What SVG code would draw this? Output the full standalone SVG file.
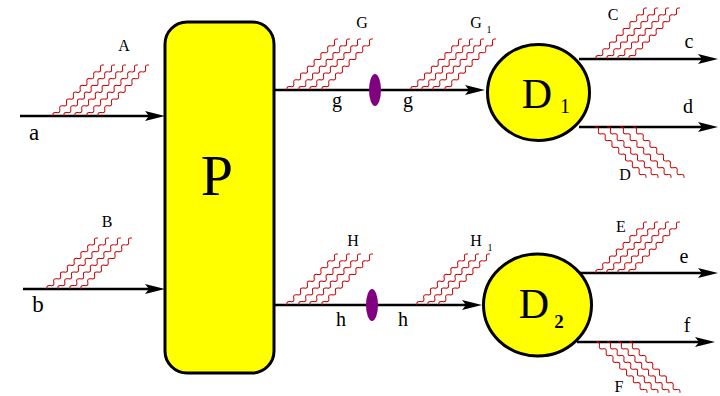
<svg xmlns="http://www.w3.org/2000/svg" xmlns:xlink="http://www.w3.org/1999/xlink" width="720" height="396" viewBox="0 0 720 396">
<style>
.node{fill:#ffff00;stroke:#000;stroke-width:3}
.conn{stroke:#000;stroke-width:2.5;fill:none;marker-end:url(#arr)}
.wave{fill:none;stroke:#cc0000;stroke-width:1}
.t{font-family:"Liberation Serif","Times New Roman",serif;fill:#000;text-anchor:middle}
.lg{font-size:23px}
.lm{font-size:20px}
.up{font-size:16px}
.sub{font-size:10px}
.lens{fill:#800080}
</style>
<defs>
<marker id="arr" markerUnits="userSpaceOnUse" markerWidth="20" markerHeight="10" viewBox="0 0 20 10" refX="10" refY="5" orient="auto">
<path d="M0,0 L20,5 L0,10 L4,5 z" fill="#000"/>
</marker>
<path id="w" class="wave" d="M0,0 q2.4,-3.6 4.8,0 t4.8,0 t4.8,0 t4.8,0 t4.8,0 t4.8,0 t4.8,0 t4.8,0 t4.8,0 t4.8,0 t4.8,0 t4.8,0 t4.8,0 t4.8,0 t4.8,0"/>
<use id="wu" xlink:href="#w" href="#w" transform="rotate(-45)"/>
<use id="wd" xlink:href="#w" href="#w" transform="rotate(45)"/>
</defs>

<g id="connectors">
<line class="conn" x1="20" y1="116" x2="155" y2="116"/>
<line class="conn" x1="23" y1="289" x2="155" y2="289"/>
<line class="conn" x1="274" y1="90" x2="475" y2="90"/>
<line class="conn" x1="274" y1="305" x2="472" y2="305"/>
<line class="conn" x1="579" y1="59" x2="708" y2="59"/>
<line class="conn" x1="579" y1="127" x2="708" y2="127"/>
<line class="conn" x1="577" y1="273" x2="708" y2="273"/>
<line class="conn" x1="577" y1="342" x2="705" y2="342"/>
<ellipse class="lens" cx="375" cy="90" rx="6" ry="16"/>
<ellipse class="lens" cx="372" cy="305" rx="6" ry="16"/>
</g>

<g id="waves">
<g id="waves-A">
<use href="#wu" xlink:href="#wu" x="53" y="116"/>
<use href="#wu" xlink:href="#wu" x="64" y="116"/>
<use href="#wu" xlink:href="#wu" x="75" y="116"/>
<use href="#wu" xlink:href="#wu" x="87" y="116"/>
<use href="#wu" xlink:href="#wu" x="98" y="116"/>
</g>
<g id="waves-B">
<use href="#wu" xlink:href="#wu" x="47" y="289"/>
<use href="#wu" xlink:href="#wu" x="58" y="289"/>
<use href="#wu" xlink:href="#wu" x="70" y="289"/>
<use href="#wu" xlink:href="#wu" x="81" y="289"/>
</g>
<g id="waves-G">
<use href="#wu" xlink:href="#wu" x="287" y="90"/>
<use href="#wu" xlink:href="#wu" x="299" y="90"/>
<use href="#wu" xlink:href="#wu" x="310" y="90"/>
<use href="#wu" xlink:href="#wu" x="322" y="90"/>
</g>
<g id="waves-G1">
<use href="#wu" xlink:href="#wu" x="411" y="90"/>
<use href="#wu" xlink:href="#wu" x="422" y="90"/>
<use href="#wu" xlink:href="#wu" x="433" y="90"/>
<use href="#wu" xlink:href="#wu" x="445" y="90"/>
</g>
<g id="waves-H">
<use href="#wu" xlink:href="#wu" x="287" y="305"/>
<use href="#wu" xlink:href="#wu" x="299" y="305"/>
<use href="#wu" xlink:href="#wu" x="310" y="305"/>
<use href="#wu" xlink:href="#wu" x="322" y="305"/>
</g>
<g id="waves-H1">
<use href="#wu" xlink:href="#wu" x="417" y="305"/>
<use href="#wu" xlink:href="#wu" x="428" y="305"/>
<use href="#wu" xlink:href="#wu" x="439" y="305"/>
</g>
<g id="waves-C">
<use href="#wu" xlink:href="#wu" x="596" y="59"/>
<use href="#wu" xlink:href="#wu" x="607" y="59"/>
<use href="#wu" xlink:href="#wu" x="618" y="59"/>
<use href="#wu" xlink:href="#wu" x="629" y="59"/>
</g>
<g id="waves-D">
<use href="#wd" xlink:href="#wd" x="595" y="127"/>
<use href="#wd" xlink:href="#wd" x="607" y="127"/>
<use href="#wd" xlink:href="#wd" x="620" y="127"/>
<use href="#wd" xlink:href="#wd" x="633" y="127"/>
</g>
<g id="waves-E">
<use href="#wu" xlink:href="#wu" x="596" y="273"/>
<use href="#wu" xlink:href="#wu" x="607" y="273"/>
<use href="#wu" xlink:href="#wu" x="618" y="273"/>
<use href="#wu" xlink:href="#wu" x="629" y="273"/>
</g>
<g id="waves-F">
<use href="#wd" xlink:href="#wd" x="596" y="342"/>
<use href="#wd" xlink:href="#wd" x="607" y="342"/>
<use href="#wd" xlink:href="#wd" x="618" y="342"/>
<use href="#wd" xlink:href="#wd" x="629" y="342"/>
</g>
</g>

<g id="node-P">
<rect class="node" x="165" y="22" width="109" height="351" rx="22" ry="22"/>
<text class="t" x="217" y="195" font-size="58">P</text>
</g>
<g id="node-D1">
<ellipse class="node" cx="538.5" cy="92.5" rx="51" ry="48"/>
<text class="t" x="537" y="108" font-size="42">D</text>
<text class="t" x="565" y="113" font-size="20">1</text>
</g>
<g id="node-D2">
<ellipse class="node" cx="537.5" cy="305" rx="54" ry="51"/>
<text class="t" x="534" y="318" font-size="42">D</text>
<text class="t" x="559" y="328" font-size="19" font-weight="bold">2</text>
</g>

<g id="labels">
<text class="t lg" x="34" y="140">a</text>
<text class="t lg" x="38" y="312">b</text>
<text class="t up" x="124" y="51">A</text>
<text class="t up" x="107" y="227">B</text>
<text class="t up" x="362" y="28">G</text>
<text class="t up" x="476" y="28">G</text>
<text class="t sub" x="489" y="33">1</text>
<text class="t lm" x="337" y="107">g</text>
<text class="t lm" x="408" y="107">g</text>
<text class="t up" x="353" y="246">H</text>
<text class="t up" x="476" y="246">H</text>
<text class="t sub" x="490" y="251">1</text>
<text class="t lm" x="341" y="326">h</text>
<text class="t lm" x="403" y="326">h</text>
<text class="t up" x="613" y="20">C</text>
<text class="t lm" x="689" y="48">c</text>
<text class="t lm" x="688" y="113">d</text>
<text class="t up" x="625" y="180">D</text>
<text class="t up" x="621" y="232">E</text>
<text class="t lm" x="684" y="263">e</text>
<text class="t lm" x="687" y="332">f</text>
<text class="t up" x="619" y="392">F</text>
</g>
</svg>
